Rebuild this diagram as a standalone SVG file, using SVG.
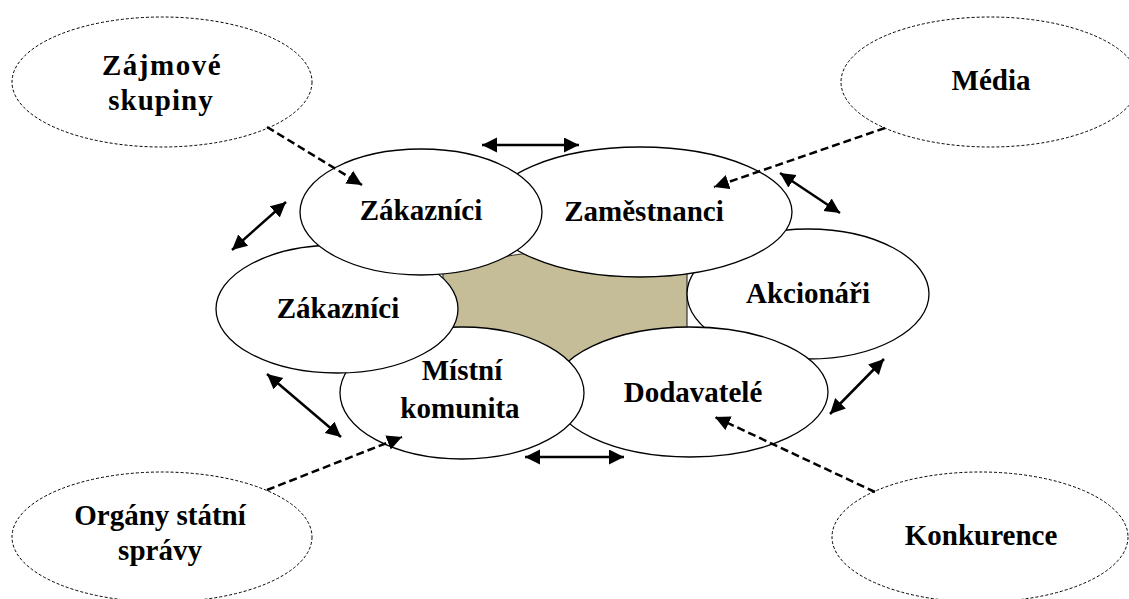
<svg xmlns="http://www.w3.org/2000/svg" width="1129" height="599" viewBox="0 0 1129 599">
<style>
.inner{fill:#fff;stroke:#000;stroke-width:1.3}
.outer{fill:#fff;stroke:#000;stroke-width:1;stroke-dasharray:3 2}
.t{font-family:"Liberation Serif","Times New Roman",serif;font-weight:bold;font-size:29px;text-anchor:middle;fill:#000}
.solid{fill:none;stroke:#000;stroke-width:2.5}
.dash{fill:none;stroke:#000;stroke-width:2.5;stroke-dasharray:8 4}
</style>
<defs>
<marker id="ah" markerUnits="userSpaceOnUse" markerWidth="16" markerHeight="16" refX="15" refY="7.5" orient="auto-start-reverse" viewBox="0 0 16 16">
<path d="M0,0 L15,7.5 L0,15 z" fill="#000"/>
</marker>
</defs>
<rect width="1129" height="599" fill="#fff"/>
<g id="center">
<polygon points="443,266 521,254 640,254 687,270 687,330 571,362 443,332" fill="#C4BD97" stroke="#333" stroke-width="1.2"/>
</g>
<g id="akcionari">
<ellipse class="inner" cx="808" cy="294" rx="121" ry="65"/>
<text class="t" x="808" y="303">Akcionáři</text>
</g>
<g id="dodavatele">
<ellipse class="inner" cx="690" cy="392" rx="138" ry="65"/>
<text class="t" x="693" y="402">Dodavatelé</text>
</g>
<g id="mistni-komunita">
<ellipse class="inner" cx="462" cy="393" rx="122" ry="66"/>
<text class="t" x="462" y="380">Místní</text>
<text class="t" x="460" y="418">komunita</text>
</g>
<g id="zakaznici-left">
<ellipse class="inner" cx="337" cy="309" rx="121" ry="64"/>
<text class="t" x="338" y="318">Zákazníci</text>
</g>
<g id="zamestnanci">
<ellipse class="inner" cx="640" cy="212" rx="152" ry="65"/>
<text class="t" x="644" y="221">Zaměstnanci</text>
</g>
<g id="zakaznici-top">
<ellipse class="inner" cx="421" cy="212" rx="121" ry="63"/>
<text class="t" x="421" y="220">Zákazníci</text>
</g>
<g id="zajmove-skupiny">
<ellipse class="outer" cx="162" cy="82" rx="150" ry="65"/>
<text class="t" x="162" y="75" letter-spacing="1.5">Zájmové</text>
<text class="t" x="161" y="110" letter-spacing="1">skupiny</text>
</g>
<g id="media">
<ellipse class="outer" cx="990" cy="82" rx="149" ry="65"/>
<text class="t" x="991" y="90">Média</text>
</g>
<g id="organy-statni-spravy">
<ellipse class="outer" cx="162" cy="537" rx="150" ry="65"/>
<text class="t" x="160" y="525">Orgány státní</text>
<text class="t" x="160" y="560">správy</text>
</g>
<g id="konkurence">
<ellipse class="outer" cx="980" cy="537" rx="148" ry="65"/>
<text class="t" x="981" y="545">Konkurence</text>
</g>
<g id="connectors">
<line class="solid" x1="482" y1="145" x2="579" y2="145" marker-start="url(#ah)" marker-end="url(#ah)"/>
<line class="solid" x1="525" y1="457" x2="624" y2="457" marker-start="url(#ah)" marker-end="url(#ah)"/>
<line class="solid" x1="232" y1="250" x2="286" y2="202" marker-start="url(#ah)" marker-end="url(#ah)"/>
<line class="solid" x1="267" y1="374" x2="341" y2="437" marker-start="url(#ah)" marker-end="url(#ah)"/>
<line class="solid" x1="780" y1="173" x2="840" y2="213" marker-start="url(#ah)" marker-end="url(#ah)"/>
<line class="solid" x1="884" y1="359" x2="830" y2="414" marker-start="url(#ah)" marker-end="url(#ah)"/>
<line class="dash" x1="267" y1="127" x2="362" y2="185" marker-end="url(#ah)"/>
<line class="dash" x1="885" y1="128" x2="714" y2="187" marker-end="url(#ah)"/>
<line class="dash" x1="267" y1="490" x2="402" y2="437" marker-end="url(#ah)"/>
<line class="dash" x1="875" y1="492" x2="715" y2="417" marker-end="url(#ah)"/>
</g>
</svg>
